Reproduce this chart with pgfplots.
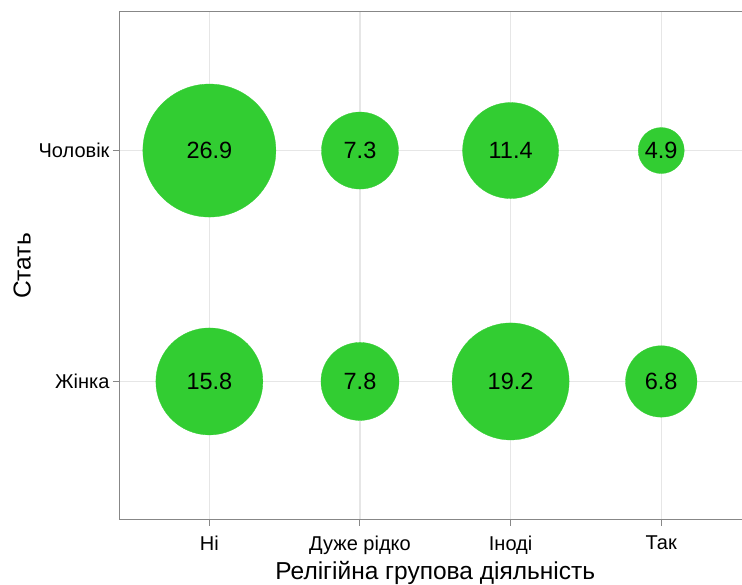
\documentclass[border=0pt]{standalone}
\usepackage{pgfplots}
\pgfplotsset{compat=1.18}
\usepackage{fontspec}
\setmainfont{Liberation Sans}
\definecolor{bubble}{RGB}{50,205,50}
\definecolor{gridc}{RGB}{230,230,230}
\definecolor{framec}{RGB}{135,135,135}
\pgfplotsset{
  bub/.style={only marks, mark=*, mark size=#1pt,
    mark options={fill=bubble, draw=bubble, line width=0.3pt},
    point meta=explicit symbolic, nodes near coords,
    every node near coord/.append style={anchor=center, text=black, font=\fontsize{23.5}{27}\selectfont}},
}
\begin{document}
\begin{tikzpicture}[x=1pt,y=1pt]
\begin{axis}[
 at={(119pt,65pt)}, anchor=south west,
 scale only axis, width=632.6pt, height=508pt,
 xmin=0.4, xmax=4.6, ymin=0.4, ymax=2.6,
 xtick={1,2,3,4}, xticklabels={Ні,Дуже рідко,Іноді,Так},
 ytick={1,2}, yticklabels={Жінка,Чоловік},
 tick pos=left,
 tick align=outside, major tick length=6pt,
 tick style={framec, line width=1pt},
 axis line style={framec, line width=1pt},
 grid=major, major grid style={gridc, line width=1.1pt},
 ticklabel style={font=\fontsize{20}{23}\selectfont, text=black},
 xticklabel style={yshift=-6pt},
 xlabel={Релігійна групова діяльність}, ylabel={Стать},
 label style={font=\fontsize{24.5}{28}\selectfont},
 xlabel style={at={(axis description cs:0.5,-0.104)}, anchor=center},
 ylabel style={at={(axis description cs:-0.153,0.5)}, anchor=center, rotate=0},
 clip=false,
]
% Чоловік
\addplot[bub=66.5] coordinates {(1,2) [26.9]};
\addplot[bub=38.5] coordinates {(2,2) [7.3]};
\addplot[bub=48]   coordinates {(3,2) [11.4]};
\addplot[bub=23]   coordinates {(4,2) [4.9]};
% Жінка
\addplot[bub=53.5] coordinates {(1,1) [15.8]};
\addplot[bub=39]   coordinates {(2,1) [7.8]};
\addplot[bub=58.5] coordinates {(3,1) [19.2]};
\addplot[bub=35.7] coordinates {(4,1) [6.8]};
\end{axis}
\pgfresetboundingbox
\useasboundingbox (0,0) rectangle (742,585);
\end{tikzpicture}
\end{document}
